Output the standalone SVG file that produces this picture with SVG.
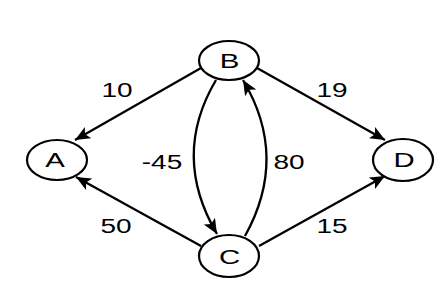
<svg xmlns="http://www.w3.org/2000/svg" width="447" height="291" viewBox="0 0 447 291">
  <style>
    .node ellipse { fill: #ffffff; stroke: #000000; stroke-width: 2.2; }
    .node text { font-family: "Liberation Sans", Arial, sans-serif; font-size: 21px; text-anchor: middle; fill: #000000; }
    .edge { fill: none; stroke: #000000; stroke-width: 2.3; marker-end: url(#arrow); }
    .label { font-family: "Liberation Sans", Arial, sans-serif; font-size: 20px; text-anchor: middle; fill: #000000; }
  </style>
  <defs>
    <marker id="arrow" markerUnits="userSpaceOnUse" markerWidth="16" markerHeight="14" refX="15" refY="6.5" orient="auto">
      <path d="M0,0 L15,6.5 L0,13 L3.5,6.5 z" fill="#000000"/>
    </marker>
  </defs>
  <rect width="447" height="291" fill="#ffffff"/>
  <g id="connectors">
    <line class="edge" x1="201" y1="68" x2="75" y2="140"/>
    <line class="edge" x1="257" y1="68" x2="385" y2="140"/>
    <line class="edge" x1="201" y1="246" x2="76" y2="177"/>
    <line class="edge" x1="259" y1="246" x2="385" y2="176"/>
    <path class="edge" d="M216,80 Q171,156 217,234"/>
    <path class="edge" d="M245,236 Q289,157 243,80"/>
    <text class="label" transform="translate(117,97) scale(1.4,1)">10</text>
    <text class="label" transform="translate(332,97) scale(1.4,1)">19</text>
    <text class="label" transform="translate(162,169) scale(1.4,1)">-45</text>
    <text class="label" transform="translate(289,169) scale(1.4,1)">80</text>
    <text class="label" transform="translate(116,233) scale(1.4,1)">50</text>
    <text class="label" transform="translate(332,233) scale(1.4,1)">15</text>
  </g>
  <g id="node-B" class="node">
    <ellipse cx="229" cy="60.5" rx="30" ry="19.5"/>
    <text transform="translate(229.5,68) scale(1.4,1)">B</text>
  </g>
  <g id="node-A" class="node">
    <ellipse cx="57" cy="160" rx="30" ry="20"/>
    <text transform="translate(55,167) scale(1.4,1)">A</text>
  </g>
  <g id="node-D" class="node">
    <ellipse cx="403" cy="160" rx="30" ry="21"/>
    <text transform="translate(404,167) scale(1.4,1)">D</text>
  </g>
  <g id="node-C" class="node">
    <ellipse cx="229" cy="256" rx="30" ry="21"/>
    <text transform="translate(229.5,264) scale(1.4,1)">C</text>
  </g>
</svg>
